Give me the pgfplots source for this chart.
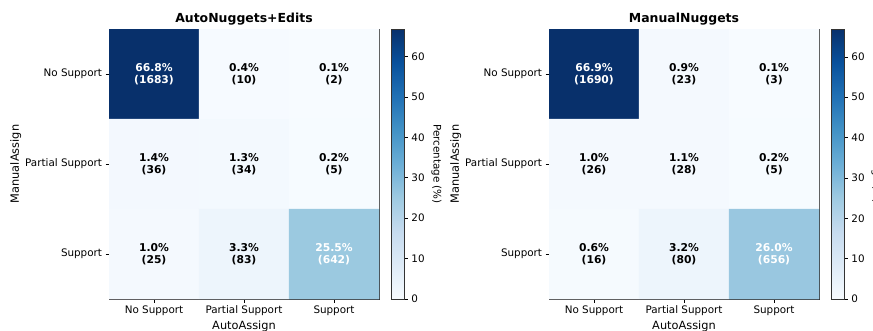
\documentclass[border=0pt]{standalone}
\usepackage{fontspec}
\setmainfont{DejaVu Sans}
\setsansfont{DejaVu Sans}
\usepackage{pgfplots}
\pgfplotsset{compat=1.18}
\usepackage{pgfplotstable}
\pgfkeys{/pgf/number format/assume math mode=true}

\pgfplotstableread{
x y pct cnt tc
0 0 66.8 1683 1
1 0 0.4 10 0
2 0 0.1 2 0
0 1 1.4 36 0
1 1 1.3 34 0
2 1 0.2 5 0
0 2 1.0 25 0
1 2 3.3 83 0
2 2 25.5 642 1
}\autoedits

\pgfplotstableread{
x y pct cnt tc
0 0 66.9 1690 1
1 0 0.9 23 0
2 0 0.1 3 0
0 1 1.0 26 0
1 1 1.1 28 0
2 1 0.2 5 0
0 2 0.6 16 0
1 2 3.2 80 0
2 2 26.0 656 1
}\manual

\pgfplotsset{
  colormap={blues}{rgb255=(247,251,255) rgb255=(222,235,247) rgb255=(198,219,239)
    rgb255=(158,202,225) rgb255=(107,174,214) rgb255=(66,146,198)
    rgb255=(33,113,181) rgb255=(8,81,156) rgb255=(8,48,107)},
  hm/.style={
    scale only axis, width=270bp, height=270bp,
    anchor=south west,
    xmin=-0.5, xmax=2.5, ymin=-0.5, ymax=2.5, y dir=reverse,
    xtick={0,1,2}, ytick={0,1,2},
    xticklabels={No Support, Partial Support, Support},
    yticklabels={No Support, Partial Support, Support},
    xtick pos=bottom, ytick pos=left,
    tick align=outside, major tick length=3.5bp,
    tick style={black, line width=0.6bp},
    axis line style={black!80, line width=0.8bp},
    xlabel=AutoAssign, ylabel=ManualAssign,
    title style={font=\fontsize{12.5}{14}\selectfont\bfseries, yshift=-6bp},
    ticklabel style={font=\fontsize{10.4}{12}\selectfont},
    label style={font=\fontsize{11.4}{13}\selectfont},
    xlabel style={yshift=2bp},
    ylabel style={yshift=-3bp},
    colormap name=blues,
    point meta min=0,
    colorbar,
    colorbar shift/.style={xshift=12bp},
    colorbar style={
      width=13bp,
      ytick={0,10,...,60},
      tick align=outside, major tick length=3.5bp,
      ytick pos=right, yticklabel pos=right,
      tick style={black, line width=0.6bp},
      axis line style={black!80, line width=0.8bp},
      ticklabel style={font=\fontsize{10.4}{12}\selectfont},
      ylabel={Percentage (\%)},
      ylabel style={rotate=180, yshift=0bp, font=\fontsize{10.4}{12}\selectfont},
    },
  },
  txt/.style={
    draw=none, mark=none,
    point meta=explicit,
    nodes near coords={\pgfmathprintnumber[fixed,fixed zerofill,precision=1]{\pgfplotspointmeta}\%\\(\pgfmathprintnumber[fixed,precision=0,1000 sep={}]{\cnt})},
    nodes near coords align={center},
    visualization depends on={\thisrow{cnt}\as\cnt},
    visualization depends on={\thisrow{tc}\as\tc},
    every node near coord/.append style={anchor=center, align=center,
      /utils/exec={\ifdim\tc pt>0.5pt\def\tcol{white}\else\def\tcol{black}\fi},
      text=\tcol,
      font=\fontsize{10.8}{11.8}\selectfont\bfseries},
  },
}

\begin{document}
\begin{tikzpicture}

\begin{axis}[hm, at={(109bp,32bp)}, title={AutoNuggets+Edits}, point meta max=66.8]
\addplot[matrix plot*, mesh/cols=3, point meta=explicit] table[x=x, y=y, meta=pct] {\autoedits};
\addplot[txt] table[x=x, y=y, meta=pct] {\autoedits};
\end{axis}

\begin{axis}[hm, at={(549bp,32bp)}, title={ManualNuggets}, point meta max=66.9]
\addplot[matrix plot*, mesh/cols=3, point meta=explicit] table[x=x, y=y, meta=pct] {\manual};
\addplot[txt] table[x=x, y=y, meta=pct] {\manual};
\end{axis}
\pgfresetboundingbox
\useasboundingbox (0bp,0bp) rectangle (873bp,331bp);
\end{tikzpicture}
\end{document}
